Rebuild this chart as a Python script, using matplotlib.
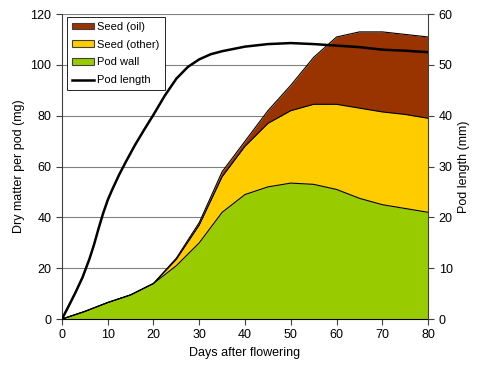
import matplotlib
matplotlib.use("Agg")
import matplotlib.pyplot as plt
import numpy as np
from matplotlib.patches import Patch
from matplotlib.lines import Line2D

plt.rcParams['font.family'] = ['Liberation Sans', 'DejaVu Sans']

days = [0, 5, 10, 15, 20, 25, 30, 35, 40, 45, 50, 55, 60, 65, 70, 75, 80]
pod_wall = [0, 3, 6.5, 9.5, 14, 21, 30, 42, 49, 52, 53.5, 53, 51, 47.5, 45, 43.5, 42]
seed_other_top = [0, 3, 6.5, 9.5, 14, 23.5, 37, 56, 68, 77, 82, 84.5, 84.5, 83, 81.5, 80.5, 79]
seed_oil_top = [0, 3, 6.5, 9.5, 14, 24, 38, 58, 70, 82, 92, 103, 111, 113, 113, 112, 111]

len_days = [0, 1.5, 3, 4.5, 6, 7, 8, 9, 10, 11, 12.5, 14, 16, 18, 20, 22.5, 25, 27.5,
            30, 32.5, 35, 40, 45, 50, 55, 60, 65, 70, 75, 80]
pod_length = [0, 2.6, 5.3, 8.2, 11.8, 14.6, 17.8, 20.8, 23.4, 25.5, 28.4, 31.0, 34.3, 37.3,
              40.2, 44.0, 47.3, 49.6, 51.1, 52.1, 52.7, 53.6, 54.1, 54.3, 54.1, 53.8, 53.5,
              53.0, 52.8, 52.5]

c_oil = '#993300'
c_other = '#FFCC00'
c_wall = '#99CC00'

fig = plt.figure(figsize=(4.8, 3.71), dpi=100)
ax = fig.add_axes([0.129, 0.140, 0.763, 0.822])

ax.fill_between(days, seed_other_top, seed_oil_top, color=c_oil, lw=0)
ax.fill_between(days, pod_wall, seed_other_top, color=c_other, lw=0)
ax.fill_between(days, 0, pod_wall, color=c_wall, lw=0)
ax.plot(days, seed_oil_top, color='black', lw=0.8)
ax.plot(days, seed_other_top, color='black', lw=0.8)
ax.plot(days, pod_wall, color='black', lw=0.8)

ax.set_xlim(0, 80)
ax.set_ylim(0, 120)
ax.set_xticks(range(0, 81, 10))
ax.set_yticks(range(0, 121, 20))
ax.yaxis.grid(True, color='#808080', lw=0.8)
ax.set_axisbelow(True)
ax.spines['top'].set_visible(False)
ax.spines['right'].set_visible(False)
ax.spines['left'].set_color('#404040')
ax.spines['bottom'].set_color('black')
ax.tick_params(labelsize=9, length=4, color='#404040')
ax.set_xlabel('Days after flowering', fontsize=9)
ax.set_ylabel('Dry matter per pod (mg)', fontsize=9)

ax2 = ax.twinx()
ax2.plot(len_days, pod_length, color='black', lw=1.8, solid_joinstyle='round')
ax2.set_ylim(0, 60)
ax2.set_yticks(range(0, 61, 10))
for s in ['top', 'left', 'bottom']:
    ax2.spines[s].set_visible(False)
ax2.spines['right'].set_color('#404040')
ax2.tick_params(labelsize=9, length=4, color='#404040')
ax2.set_ylabel('Pod length (mm)', fontsize=9)

handles = [Patch(facecolor=c_oil, edgecolor='#404040', lw=0.8),
           Patch(facecolor=c_other, edgecolor='#404040', lw=0.8),
           Patch(facecolor=c_wall, edgecolor='#404040', lw=0.8),
           Line2D([0], [0], color='black', lw=1.8)]
labels = ['Seed (oil)', 'Seed (other)', 'Pod wall', 'Pod length']
leg = ax2.legend(handles, labels, loc='upper left', bbox_to_anchor=(0.013, 0.991),
                 fontsize=8, frameon=True, fancybox=False, edgecolor='black',
                 framealpha=1, handlelength=2.0, handleheight=0.55,
                 handletextpad=0.3, labelspacing=0.7, borderpad=0.45,
                 borderaxespad=0)
leg.get_frame().set_linewidth(0.6)

fig.savefig('out.png', dpi=100)
